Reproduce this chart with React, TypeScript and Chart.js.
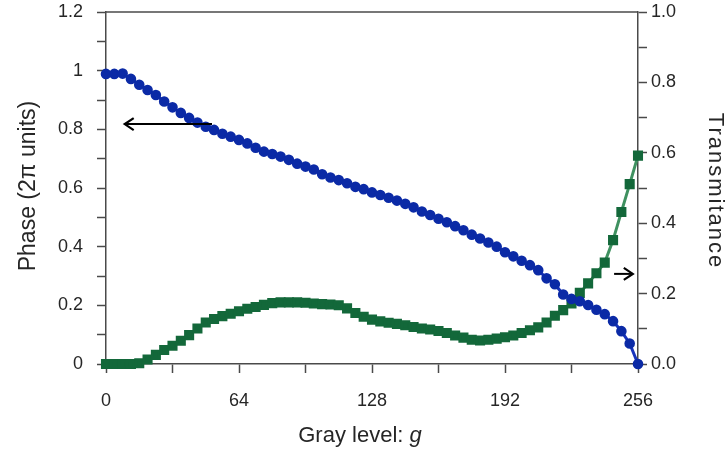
import React, { useEffect, useRef } from "react";
import { Chart, registerables } from "chart.js";

Chart.register(...registerables);

const grayLevels: number[] = [
  0, 4, 8, 12, 16, 20, 24, 28, 32, 36, 40, 44, 48, 52, 56, 60, 64, 68, 72, 76, 80, 84, 88, 92, 96, 100,
  104, 108, 112, 116, 120, 124, 128, 132, 136, 140, 144, 148, 152, 156, 160, 164, 168, 172, 176, 180,
  184, 188, 192, 196, 200, 204, 208, 212, 216, 220, 224, 228, 232, 236, 240, 244, 248, 252, 256,
];

const phase: number[] = [
  0.989, 0.989, 0.99, 0.972, 0.952, 0.934, 0.917, 0.895, 0.875, 0.856, 0.839, 0.823, 0.809, 0.798,
  0.785, 0.775, 0.764, 0.752, 0.737, 0.724, 0.716, 0.707, 0.696, 0.683, 0.673, 0.663, 0.647, 0.636,
  0.627, 0.616, 0.604, 0.596, 0.585, 0.576, 0.567, 0.557, 0.546, 0.534, 0.52, 0.508, 0.495, 0.483,
  0.47, 0.456, 0.441, 0.428, 0.414, 0.4, 0.381, 0.367, 0.352, 0.337, 0.32, 0.292, 0.272, 0.237, 0.222,
  0.214, 0.201, 0.185, 0.17, 0.146, 0.112, 0.07, 0.0,
];

const transmittance: number[] = [
  0.0, 0.0, 0.0, 0.0, 0.002, 0.013, 0.026, 0.04, 0.052, 0.066, 0.082, 0.101, 0.118, 0.128, 0.136,
  0.143, 0.15, 0.157, 0.162, 0.168, 0.173, 0.175, 0.175, 0.175, 0.174, 0.172, 0.17, 0.169, 0.167,
  0.158, 0.145, 0.134, 0.126, 0.121, 0.117, 0.114, 0.11, 0.105, 0.101, 0.098, 0.094, 0.088, 0.081,
  0.075, 0.069, 0.067, 0.069, 0.072, 0.076, 0.081, 0.088, 0.096, 0.104, 0.118, 0.137, 0.153, 0.172,
  0.202, 0.229, 0.258, 0.288, 0.352, 0.432, 0.511, 0.592,
];

const xTickLabels: number[] = [0, 64, 128, 192, 256];
const leftTickLabels: string[] = ["0", "0.2", "0.4", "0.6", "0.8", "1", "1.2"];
const rightTickLabels: string[] = ["0.0", "0.2", "0.4", "0.6", "0.8", "1.0"];

const FONT = "'Liberation Sans', Arial, sans-serif";
const AXIS = "#4a4a4a";
const TEXT = "#262626";

const overlayPlugin = {
  id: "overlay",
  afterDraw(chart: any) {
    const { ctx, chartArea, scales } = chart;
    const x = scales.x;
    const y = scales.y;
    const y1 = scales.y1;
    ctx.save();
    // top frame line
    ctx.strokeStyle = AXIS;
    ctx.lineWidth = 1.5;
    ctx.beginPath();
    ctx.moveTo(chartArea.left, chartArea.top);
    ctx.lineTo(chartArea.right, chartArea.top);
    ctx.stroke();

    // arrows
    const arrow = (x0: number, x1: number, yy: number) => {
      ctx.strokeStyle = "#000";
      ctx.lineWidth = 2;
      ctx.beginPath();
      ctx.moveTo(x0, yy);
      ctx.lineTo(x1, yy);
      ctx.stroke();
      const dir = x1 > x0 ? 1 : -1;
      ctx.lineWidth = 2.2;
      ctx.beginPath();
      ctx.moveTo(x1 - dir * 9, yy - 6);
      ctx.lineTo(x1, yy);
      ctx.lineTo(x1 - dir * 9, yy + 6);
      ctx.stroke();
    };
    arrow(x.getPixelForValue(51), x.getPixelForValue(9), y.getPixelForValue(0.818));
    arrow(x.getPixelForValue(244.5), x.getPixelForValue(253.5), y1.getPixelForValue(0.256));

    // x title
    ctx.fillStyle = TEXT;
    ctx.textBaseline = "middle";
    const cx = (chartArea.left + chartArea.right) / 2 - 12;
    const cy = 436;
    ctx.font = `22px ${FONT}`;
    const t1 = "Gray level: ";
    const w1 = ctx.measureText(t1).width;
    ctx.font = `italic 22px ${FONT}`;
    const w2 = ctx.measureText("g").width;
    const start = cx - (w1 + w2) / 2;
    ctx.textAlign = "left";
    ctx.font = `22px ${FONT}`;
    ctx.fillText(t1, start, cy);
    ctx.font = `italic 22px ${FONT}`;
    ctx.fillText("g", start + w1, cy);

    // left title
    ctx.save();
    ctx.translate(29, (chartArea.top + chartArea.bottom) / 2 - 2);
    ctx.rotate(-Math.PI / 2);
    ctx.textAlign = "center";
    ctx.font = `23px ${FONT}`;
    ctx.fillText("Phase (2\u03c0 units)", 0, 0);
    ctx.restore();

    // right title
    ctx.save();
    ctx.translate(715, (chartArea.top + chartArea.bottom) / 2 + 2);
    ctx.rotate(Math.PI / 2);
    ctx.textAlign = "center";
    ctx.font = `22px ${FONT}`;
    (ctx as any).letterSpacing = "2px";
    ctx.fillText("Transmitance", 1, 0);
    ctx.restore();

    ctx.restore();
  },
};

const noPadY = (w: number) => (s: any) => {
  s.width = w;
  s.paddingTop = 0;
  s.paddingBottom = 0;
};

export default function App() {
  const ref = useRef<HTMLCanvasElement | null>(null);

  useEffect(() => {
    document.body.style.margin = "0";
    if (!ref.current) return;
    const chart = new Chart(ref.current, {
      type: "line",
      data: {
        datasets: [
          {
            label: "Phase",
            data: grayLevels.map((g, i) => ({ x: g, y: phase[i] })),
            yAxisID: "y",
            borderColor: "#1733bb",
            backgroundColor: "#0b2aa6",
            pointBackgroundColor: "#0b2aa6",
            pointBorderColor: "#0b2aa6",
            borderWidth: 3,
            pointRadius: 3.8,
            pointStyle: "circle",
            tension: 0,
            clip: false,
          } as any,
          {
            label: "Transmittance",
            data: grayLevels.map((g, i) => ({ x: g, y: transmittance[i] })),
            yAxisID: "y1",
            borderColor: "#3f9160",
            backgroundColor: "#13683a",
            pointBackgroundColor: "#13683a",
            pointBorderColor: "#13683a",
            borderWidth: 3,
            pointRadius: 5,
            pointStyle: "rect",
            tension: 0,
            clip: false,
          } as any,
        ],
      },
      options: {
        animation: false,
        responsive: true,
        maintainAspectRatio: false,
        layout: { padding: { top: 12, left: 0, right: 0, bottom: 0 } },
        plugins: { legend: { display: false }, tooltip: { enabled: false } },
        scales: {
          x: {
            type: "linear",
            min: 0,
            max: 256,
            afterFit: (s: any) => {
              s.height = 90;
            },
            ticks: {
              stepSize: 32,
              autoSkip: false,
              maxRotation: 0,
              padding: 17,
              color: TEXT,
              font: { family: FONT, size: 18 },
              callback: (v: any) => {
                const n = Number(v);
                return xTickLabels.includes(n) ? String(n) : "";
              },
            },
            grid: {
              drawOnChartArea: false,
              drawTicks: true,
              tickLength: 9,
              tickColor: AXIS,
              tickWidth: 1.5,
              color: AXIS,
            },
            border: { display: true, color: AXIS, width: 1.5 },
          },
          y: {
            type: "linear",
            position: "left",
            min: 0,
            max: 1.2,
            afterFit: noPadY(106),
            ticks: {
              stepSize: 0.1,
              autoSkip: false,
              padding: 14,
              color: TEXT,
              font: { family: FONT, size: 18 },
              callback: (v: any) => {
                const k = Math.round(Number(v) * 10);
                return k % 2 === 0 ? leftTickLabels[k / 2] : "";
              },
            },
            grid: {
              drawOnChartArea: false,
              drawTicks: true,
              tickLength: 9,
              tickColor: AXIS,
              tickWidth: 1.5,
              color: AXIS,
            },
            border: { display: true, color: AXIS, width: 1.5 },
          },
          y1: {
            type: "linear",
            position: "right",
            min: 0,
            max: 1.0,
            afterFit: noPadY(89),
            ticks: {
              stepSize: 0.1,
              autoSkip: false,
              padding: 4,
              color: TEXT,
              font: { family: FONT, size: 18 },
              callback: (v: any) => {
                const k = Math.round(Number(v) * 10);
                return k % 2 === 0 ? rightTickLabels[k / 2] : "";
              },
            },
            grid: {
              drawOnChartArea: false,
              drawTicks: true,
              tickLength: 9,
              tickColor: AXIS,
              tickWidth: 1.5,
              color: AXIS,
            },
            border: { display: true, color: AXIS, width: 1.5 },
          },
        },
      },
      plugins: [overlayPlugin],
    });
    return () => chart.destroy();
  }, []);

  return (
    <div style={{ position: "relative", width: "727px", height: "454px" }}>
      <canvas ref={ref} />
    </div>
  );
}
